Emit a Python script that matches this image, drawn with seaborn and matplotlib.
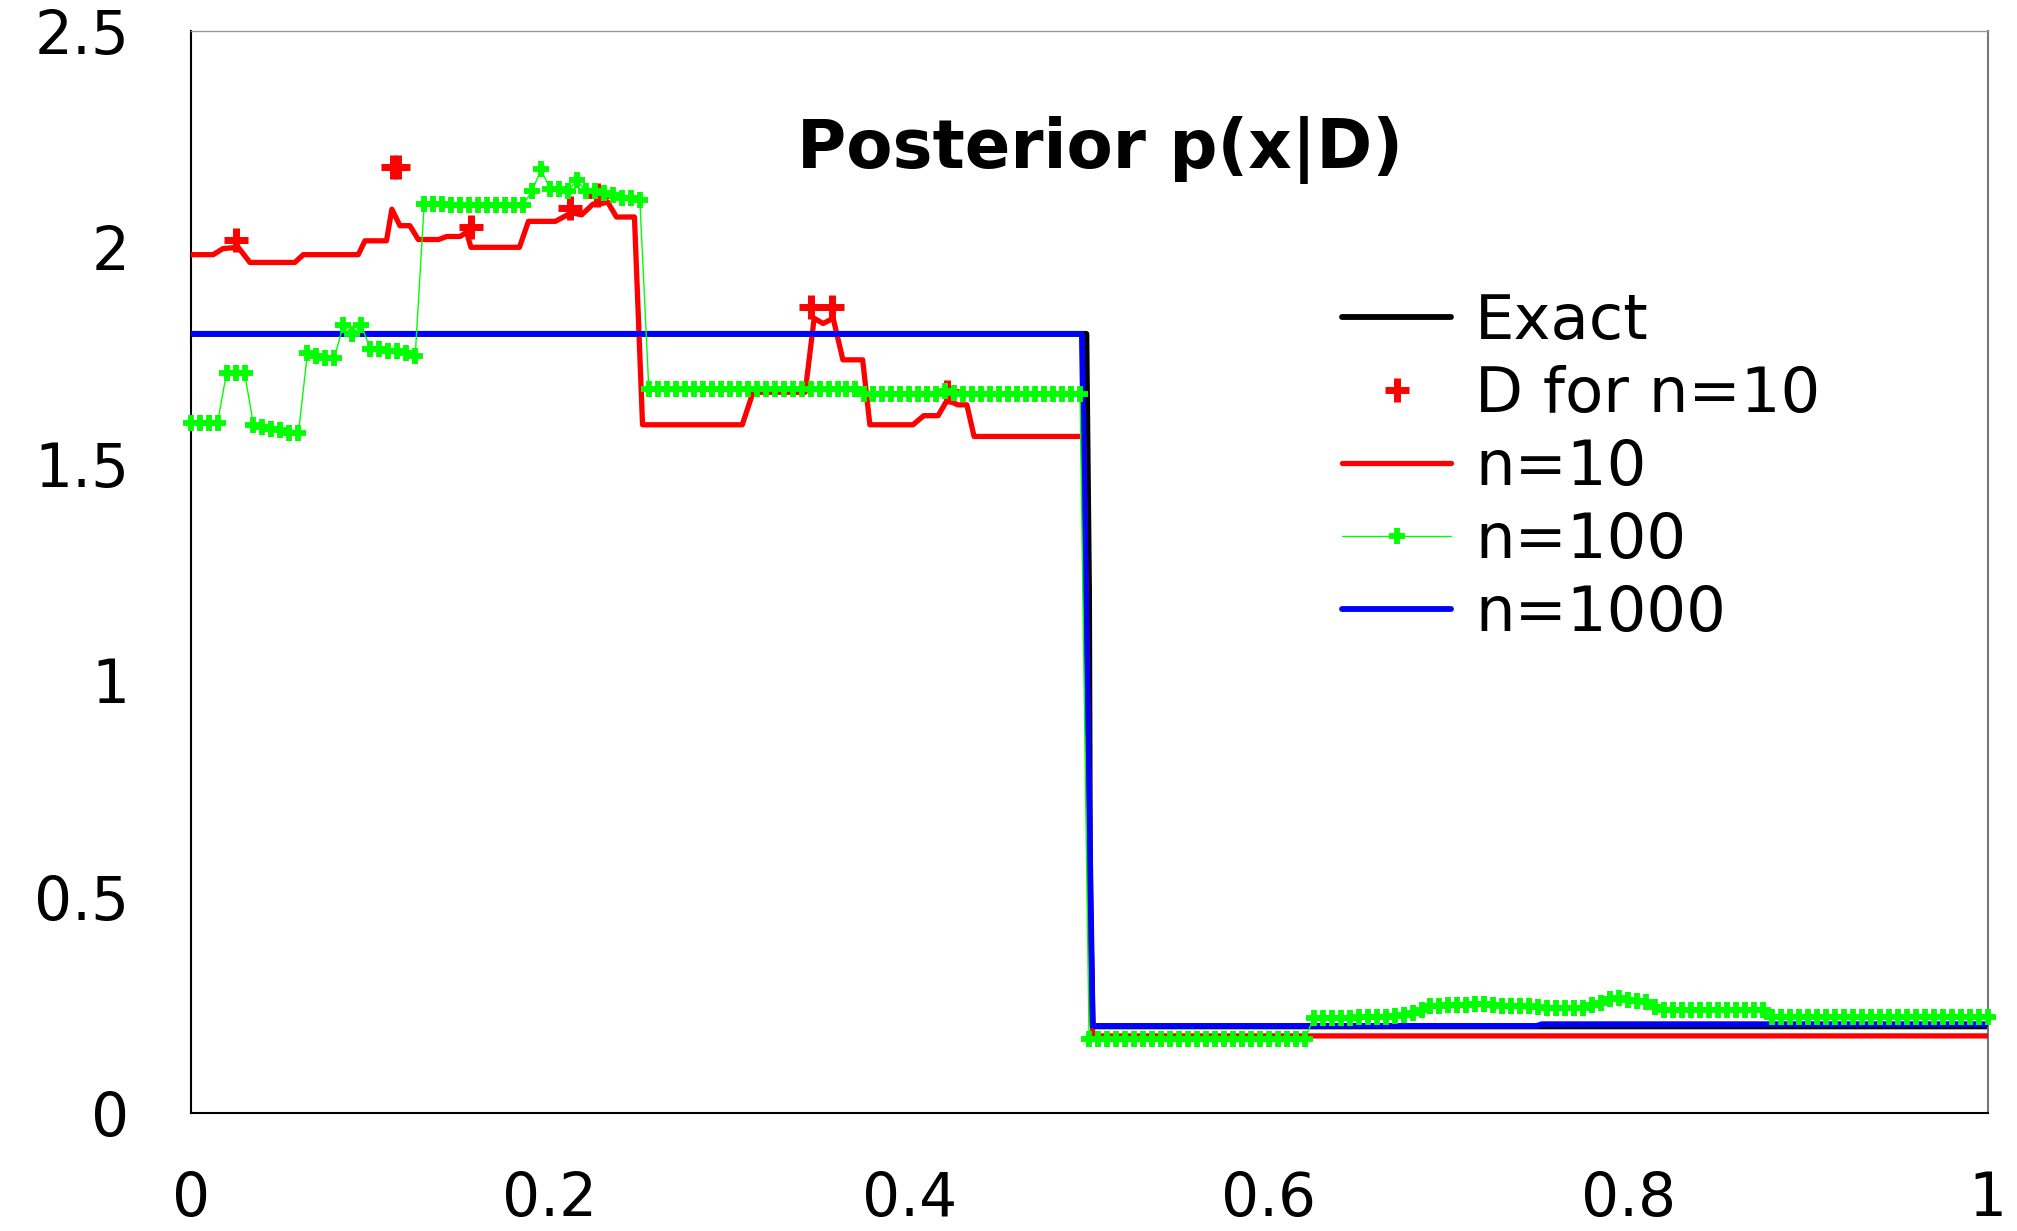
#Posterior p(x|D) - step density estimates for n=10, 100 and 1000 samples

#Import numpy, matplotlib and seaborn
import numpy as np
import matplotlib
matplotlib.use("Agg")
import matplotlib.pyplot as plt
import seaborn as sns

#Exact posterior (step at x=0.5)
exact_x = [0, 0.4985, 0.5, 0.5005, 0.502, 1.0]
exact_y = [1.8, 1.8, 1.2, 0.5, 0.2, 0.2]

#Estimate from n=1000
n1000_x = [0, 0.496, 0.502, 0.749, 0.752, 1.0]
n1000_y = [1.8, 1.8, 0.201, 0.201, 0.205, 0.205]

#Estimate from n=10 (corner points of the red line)
n10_x = [0, 0.0126, 0.018, 0.0265, 0.033, 0.058, 0.0627, 0.0933, 0.097, 0.109,
         0.112, 0.1165, 0.122, 0.1267, 0.138, 0.1425, 0.150, 0.1536, 0.156, 0.183,
         0.188, 0.203, 0.212, 0.2176, 0.224, 0.228, 0.232, 0.237, 0.247, 0.2515,
         0.307, 0.313, 0.342, 0.347, 0.352, 0.3576, 0.363, 0.374, 0.378, 0.402,
         0.408, 0.416, 0.421, 0.427, 0.432, 0.436, 0.497, 0.502, 1.0]
n10_y = [1.983, 1.983, 1.997, 2.0, 1.965, 1.965, 1.983, 1.983, 2.015, 2.015,
         2.088, 2.05, 2.05, 2.018, 2.018, 2.025, 2.025, 2.035, 2.0, 2.0,
         2.06, 2.06, 2.08, 2.075, 2.1, 2.1, 2.105, 2.07, 2.07, 1.59,
         1.59, 1.665, 1.665, 1.836, 1.824, 1.836, 1.74, 1.74, 1.59, 1.59,
         1.611, 1.611, 1.647, 1.636, 1.636, 1.563, 1.563, 0.178, 0.178]

#The data points D for n=10
d_x = [0.025, 0.1125, 0.1155, 0.156, 0.211, 0.226, 0.345, 0.357, 0.421]
d_y = [2.016, 2.185, 2.185, 2.047, 2.09, 2.12, 1.862, 1.862, 1.665]

#Estimate from n=100 on a grid of 201 points
n100_x = np.linspace(0, 1, 201)
n100_y = [1.595, 1.595, 1.595, 1.595, 1.71, 1.71, 1.71, 1.59, 1.585, 1.58,
          1.578, 1.572, 1.57, 1.755, 1.75, 1.745, 1.745, 1.82, 1.80, 1.82,
          1.765, 1.765, 1.76, 1.76, 1.755, 1.75, 2.10, 2.10, 2.10, 2.098,
          2.098, 2.098, 2.098, 2.098, 2.098, 2.098, 2.098, 2.098, 2.13, 2.18,
          2.135, 2.135, 2.13, 2.155, 2.13, 2.13, 2.125, 2.12, 2.115, 2.115,
          2.11, 1.672, 1.672, 1.672, 1.672, 1.672, 1.672, 1.672, 1.672, 1.672,
          1.672, 1.672, 1.672, 1.672, 1.672, 1.672, 1.672, 1.672, 1.672, 1.672,
          1.672, 1.672, 1.672, 1.672, 1.672, 1.66, 1.66, 1.66, 1.66, 1.66,
          1.66, 1.66, 1.66, 1.662, 1.668, 1.664, 1.66, 1.66, 1.66, 1.66,
          1.66, 1.66, 1.66, 1.66, 1.66, 1.66, 1.66, 1.66, 1.66, 1.66,
          0.17, 0.17, 0.17, 0.17, 0.17, 0.17, 0.17, 0.17, 0.17, 0.17,
          0.17, 0.17, 0.17, 0.17, 0.17, 0.17, 0.17, 0.17, 0.17, 0.17,
          0.17, 0.17, 0.17, 0.17, 0.17, 0.22, 0.22, 0.22, 0.22, 0.22,
          0.222, 0.222, 0.222, 0.222, 0.225, 0.226, 0.232, 0.238, 0.248, 0.248,
          0.249, 0.249, 0.25, 0.251, 0.251, 0.25, 0.247, 0.246, 0.246, 0.246,
          0.245, 0.242, 0.242, 0.242, 0.242, 0.242, 0.25, 0.255, 0.263, 0.265,
          0.26, 0.258, 0.256, 0.245, 0.238, 0.238, 0.238, 0.239, 0.238, 0.238,
          0.238, 0.238, 0.237, 0.238, 0.238, 0.237, 0.222, 0.222, 0.222, 0.222,
          0.222, 0.222, 0.222, 0.222, 0.222, 0.222, 0.222, 0.222, 0.222, 0.222,
          0.222, 0.222, 0.222, 0.222, 0.222, 0.222, 0.222, 0.222, 0.222, 0.222,
          0.222]

#Tick labels
x_ticks = [0, 0.2, 0.4, 0.6, 0.8, 1.0]
x_labels = ["0", "0.2", "0.4", "0.6", "0.8", "1"]
y_ticks = [0, 0.5, 1.0, 1.5, 2.0, 2.5]
y_labels = ["0", "0.5", "1", "1.5", "2", "2.5"]

#Style
sns.set_style("white")
plt.rcParams['font.family'] = ['DejaVu Sans']
plt.rcParams['text.color'] = 'black'

fig = plt.figure(figsize=(20.17, 12.31), dpi=100)
ax = fig.add_axes([0.0945, 0.0959, 0.8909, 0.8790])

#Draw the lines
sns.lineplot(x=exact_x, y=exact_y, color="black", lw=4.2, label="Exact",
             sort=False, estimator=None, ax=ax, zorder=2)
sns.lineplot(x=n10_x, y=n10_y, color="#FF0000", lw=3.8, label="n=10",
             sort=False, estimator=None, ax=ax, zorder=3)
sns.lineplot(x=d_x, y=d_y, color="#FF0000", linestyle="none", marker="+",
             markersize=17, markeredgewidth=5, markeredgecolor="#FF0000",
             label="D for n=10", sort=False, estimator=None, ax=ax, zorder=4)
sns.lineplot(x=n1000_x, y=n1000_y, color="#0000FF", lw=4.2, label="n=1000",
             sort=False, estimator=None, ax=ax, zorder=5)
sns.lineplot(x=n100_x, y=n100_y, color="#00FF00", lw=1.0, marker="+",
             markersize=11, markeredgewidth=4.2, markeredgecolor="#00FF00",
             label="n=100", sort=False, estimator=None, ax=ax, zorder=6,
             clip_on=False)

#Axes
ax.set_xlim(0, 1)
ax.set_ylim(0, 2.5)
ax.set_xticks(x_ticks)
ax.set_xticklabels(x_labels)
ax.set_yticks(y_ticks)
ax.set_yticklabels(y_labels)
ax.tick_params(axis="both", direction="out", length=17, width=1.2,
               labelsize=43, labelcolor="black")
ax.tick_params(axis="y", pad=27, color="#777777")
ax.tick_params(axis="x", pad=24, color="#222222")
ax.set_xlabel("")
ax.set_ylabel("")
for side in ["left", "bottom"]:
    ax.spines[side].set_color("black")
    ax.spines[side].set_linewidth(1.5)
ax.spines["top"].set_color("#999999")
ax.spines["top"].set_linewidth(1.0)
ax.spines["right"].set_color("#777777")
ax.spines["right"].set_linewidth(1.5)

#Title inside the plot
ax.text(0.506, 0.873, "Posterior p(x|D)", transform=ax.transAxes,
        ha="center", va="baseline", fontsize=48.5, fontweight="bold",
        color="black")

#Legend in the order of the reference
handles, labels = ax.get_legend_handles_labels()
order = ["Exact", "D for n=10", "n=10", "n=100", "n=1000"]
lookup = dict(zip(labels, handles))
ax.legend([lookup[k] for k in order], order, loc="upper left",
          bbox_to_anchor=(0.6653, 0.7629), bbox_transform=fig.transFigure,
          frameon=False, fontsize=45, handlelength=1.75, handletextpad=0.38,
          labelspacing=0.21, borderpad=0, borderaxespad=0)

plt.savefig("out.png", dpi=100)
